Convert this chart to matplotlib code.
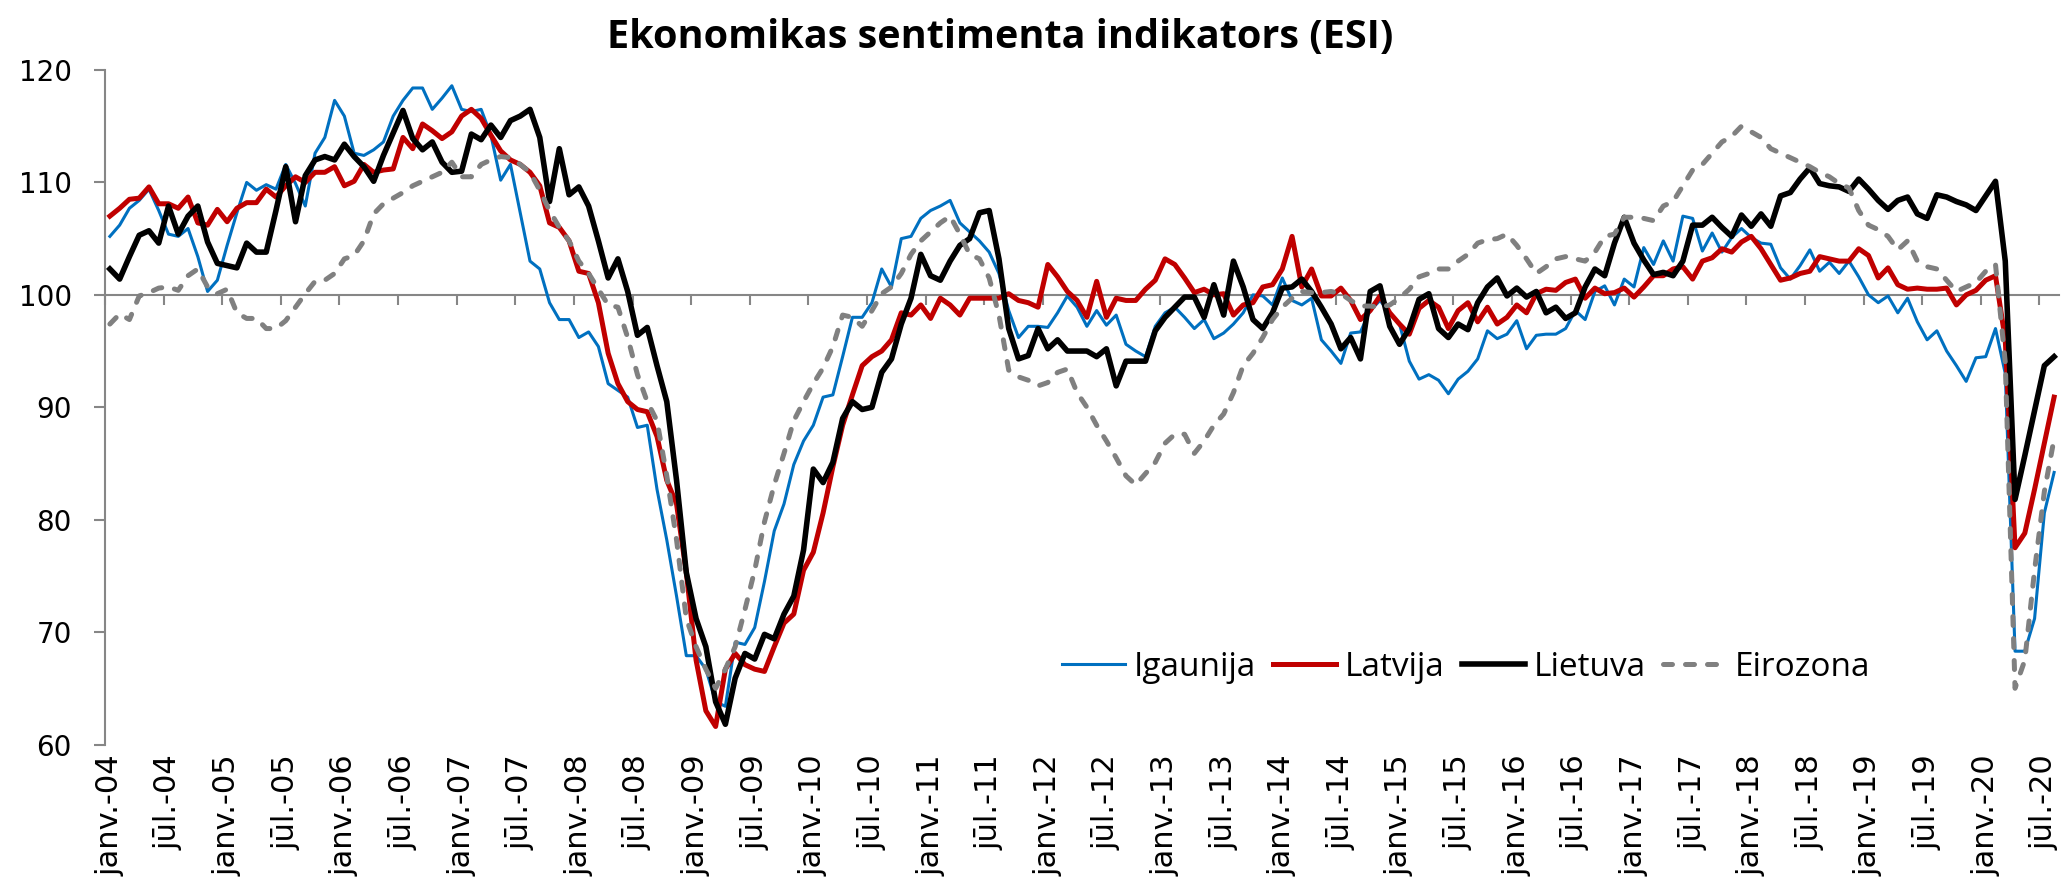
import numpy as np
import matplotlib
matplotlib.use("Agg")
import matplotlib.pyplot as plt

# ---------------- data (monthly, Jan 2004 - Aug 2020) ----------------
months_lv = ['janv.', 'febr.', 'marts', 'apr.', 'maijs', 'jūn.',
             'jūl.', 'aug.', 'sept.', 'okt.', 'nov.', 'dec.']
years = list(range(2004, 2021))

igaunija = [
    105.2, 106.2, 107.7, 108.4, 109.4, 107.5, 105.4, 105.2, 105.9, 103.4, 100.3, 101.3,
    104.4, 107.3, 110.0, 109.3, 109.8, 109.4, 111.6, 109.9, 107.9, 112.6, 114.0, 117.3,
    115.9, 112.6, 112.4, 112.9, 113.6, 115.9, 117.3, 118.4, 118.4, 116.5, 117.5, 118.6,
    116.5, 116.3, 116.5, 114.2, 110.2, 111.6, 107.3, 103.0, 102.3, 99.3, 97.8, 97.8,
    96.2, 96.7, 95.4, 92.1, 91.5, 90.9, 88.2, 88.4, 82.7, 78.2, 73.2, 67.9,
    67.9, 66.7, 63.8, 63.4, 69.1, 68.9, 70.4, 74.5, 79.0, 81.4, 84.9, 87.0,
    88.4, 90.9, 91.1, 94.5, 98.0, 98.0, 99.3, 102.3, 100.7, 105.0, 105.2, 106.8,
    107.5, 107.9, 108.4, 106.4, 105.6, 104.8, 103.8, 101.9, 98.6, 96.2, 97.2, 97.2,
    97.1, 98.4, 99.9, 98.9, 97.2, 98.6, 97.3, 98.2, 95.6, 95.0, 94.5, 97.2,
    98.4, 98.9, 98.0, 97.0, 97.8, 96.1, 96.6, 97.4, 98.4, 100.0, 99.9, 99.1,
    101.5, 99.5, 99.1, 99.7, 96.0, 95.0, 93.9, 96.6, 96.7, 98.6, 99.5, 98.4,
    97.4, 94.1, 92.5, 92.9, 92.4, 91.2, 92.5, 93.2, 94.3, 96.8, 96.1, 96.5,
    97.7, 95.2, 96.4, 96.5, 96.5, 97.0, 98.6, 97.8, 100.3, 100.8, 99.1, 101.4,
    100.7, 104.2, 102.7, 104.8, 103.0, 107.0, 106.8, 103.9, 105.5, 103.8, 105.1, 105.9,
    105.1, 104.6, 104.5, 102.4, 101.4, 102.6, 104.0, 102.1, 102.9, 101.9, 103.0, 101.6,
    100.0, 99.3, 99.9, 98.4, 99.7, 97.6, 96.0, 96.8, 95.0, 93.7, 92.3, 94.4,
    94.5, 97.0, 93.0, 68.3, 68.3, 71.2, 80.6, 84.2,
]

latvija = [
    107.0, 107.7, 108.5, 108.6, 109.6, 108.1, 108.1, 107.7, 108.7, 106.4, 106.2, 107.6,
    106.5, 107.7, 108.2, 108.2, 109.4, 108.7, 109.7, 110.5, 110.0, 110.9, 110.9, 111.4,
    109.7, 110.1, 111.6, 110.9, 111.1, 111.2, 114.0, 113.0, 115.2, 114.6, 113.9, 114.5,
    115.9, 116.5, 115.7, 114.2, 112.8, 112.0, 111.6, 110.9, 109.7, 106.4, 106.0, 104.8,
    102.1, 101.9, 99.3, 94.8, 92.1, 90.5, 89.8, 89.6, 87.4, 83.5, 81.4, 75.3,
    67.5, 63.0, 61.6, 66.7, 68.1, 67.1, 66.7, 66.5, 68.7, 70.8, 71.6, 75.5,
    77.1, 80.6, 84.7, 88.4, 91.1, 93.7, 94.5, 95.0, 96.0, 98.4, 98.2, 99.1,
    97.9, 99.7, 99.1, 98.2, 99.7, 99.7, 99.7, 99.7, 100.1, 99.5, 99.3, 98.9,
    102.7, 101.6, 100.3, 99.5, 98.0, 101.2, 98.0, 99.7, 99.5, 99.5, 100.5, 101.3,
    103.2, 102.7, 101.5, 100.2, 100.5, 100.0, 100.1, 98.2, 99.1, 99.3, 100.7, 100.9,
    102.3, 105.2, 100.7, 102.3, 99.9, 99.9, 100.6, 99.5, 97.8, 98.6, 99.9, 98.4,
    97.4, 96.5, 98.8, 99.5, 98.9, 97.0, 98.6, 99.3, 97.6, 98.9, 97.4, 98.0,
    99.1, 98.4, 100.1, 100.5, 100.4, 101.1, 101.4, 99.7, 100.6, 100.1, 100.2, 100.6,
    99.8, 100.7, 101.7, 101.7, 102.3, 102.5, 101.4, 103.0, 103.3, 104.1, 103.8, 104.7,
    105.2, 104.1, 102.7, 101.3, 101.5, 101.9, 102.1, 103.4, 103.2, 103.0, 103.0, 104.1,
    103.5, 101.5, 102.4, 100.9, 100.5, 100.6, 100.5, 100.5, 100.6, 99.1, 100.0, 100.4,
    101.3, 101.7, 96.0, 77.5, 78.8, 82.7, 86.8, 90.9,
]

lietuva = [
    102.3, 101.4, 103.4, 105.3, 105.7, 104.6, 107.9, 105.4, 107.0, 107.9, 104.7, 102.8,
    102.6, 102.4, 104.6, 103.8, 103.8, 107.5, 111.4, 106.5, 110.6, 112.0, 112.3, 112.0,
    113.4, 112.3, 111.4, 110.1, 112.4, 114.4, 116.4, 113.9, 112.9, 113.6, 111.8, 110.9,
    111.0, 114.3, 113.8, 115.1, 114.0, 115.5, 115.9, 116.5, 114.0, 108.3, 113.0, 108.9,
    109.6, 107.9, 104.8, 101.5, 103.2, 100.3, 96.4, 97.1, 93.7, 90.5, 83.5, 75.3,
    71.2, 68.7, 63.8, 61.8, 65.9, 68.1, 67.6, 69.8, 69.4, 71.6, 73.2, 77.3,
    84.5, 83.3, 85.1, 89.0, 90.5, 89.8, 90.0, 93.1, 94.3, 97.4, 99.7, 103.6,
    101.7, 101.3, 103.0, 104.4, 105.0, 107.3, 107.5, 103.2, 97.0, 94.3, 94.6, 97.0,
    95.2, 96.0, 95.0, 95.0, 95.0, 94.5, 95.2, 91.9, 94.1, 94.1, 94.1, 96.8,
    98.0, 98.9, 99.8, 99.8, 98.0, 100.9, 98.2, 103.0, 100.7, 97.8, 97.0, 98.4,
    100.6, 100.7, 101.4, 100.3, 98.9, 97.4, 95.2, 96.2, 94.3, 100.3, 100.8, 97.2,
    95.6, 97.0, 99.6, 100.1, 97.0, 96.2, 97.4, 96.9, 99.3, 100.7, 101.5, 99.9,
    100.6, 99.8, 100.3, 98.4, 98.9, 97.9, 98.4, 100.7, 102.3, 101.7, 104.6, 106.9,
    104.6, 103.1, 101.8, 102.0, 101.7, 103.0, 106.2, 106.2, 106.9, 106.0, 105.2, 107.1,
    106.1, 107.2, 106.1, 108.8, 109.1, 110.3, 111.3, 109.9, 109.7, 109.6, 109.2, 110.3,
    109.4, 108.4, 107.6, 108.4, 108.7, 107.2, 106.8, 108.9, 108.7, 108.3, 108.0, 107.5,
    108.8, 110.1, 103.0, 81.8, 85.7, 89.7, 93.7, 94.5,
]

eirozona = [
    97.4, 98.3, 97.8, 99.9, 100.2, 100.6, 100.7, 100.4, 101.7, 102.3, 100.7, 100.1,
    100.5, 98.4, 97.9, 97.9, 97.0, 97.0, 97.7, 98.9, 100.1, 101.2, 101.3, 101.9,
    103.2, 103.5, 104.8, 107.2, 108.1, 108.6, 109.1, 109.7, 110.1, 110.5, 110.9, 111.8,
    110.5, 110.5, 111.6, 112.0, 112.3, 112.2, 111.6, 110.9, 109.3, 107.5, 106.0, 104.8,
    103.0, 101.9, 100.5, 99.1, 98.9, 96.2, 92.9, 90.5, 88.8, 83.9, 78.2, 71.2,
    68.7, 66.7, 65.0, 66.7, 68.7, 72.0, 75.5, 79.8, 83.1, 85.9, 88.8, 90.5,
    92.1, 93.5, 95.4, 98.2, 98.0, 97.2, 98.6, 100.1, 100.7, 101.9, 103.6, 104.8,
    105.6, 106.4, 107.0, 105.4, 103.6, 103.2, 101.5, 98.2, 93.3, 92.7, 92.4, 91.9,
    92.2, 93.1, 93.4, 91.3, 90.0, 88.4, 87.0, 85.5, 83.9, 83.1, 84.1, 85.1,
    86.8, 87.6, 87.6, 85.9, 87.0, 88.4, 89.4, 91.3, 93.7, 94.8, 96.2, 97.8,
    98.9, 99.7, 100.3, 100.2, 100.2, 100.3, 100.1, 99.5, 99.0, 99.0, 98.9, 99.1,
    99.7, 100.5, 101.6, 101.9, 102.3, 102.3, 103.0, 103.6, 104.6, 104.9, 105.0, 105.4,
    104.4, 103.2, 101.9, 102.5, 103.2, 103.4, 103.2, 103.0, 103.8, 105.2, 105.4, 106.9,
    106.9, 106.8, 106.6, 107.9, 108.3, 109.7, 111.1, 111.6, 112.6, 113.6, 114.1, 115.0,
    114.5, 114.0, 113.0, 112.6, 112.2, 111.8, 111.4, 110.9, 110.5, 109.9, 109.5, 107.5,
    106.2, 105.8, 105.2, 104.0, 104.8, 103.0, 102.5, 102.3, 101.3, 100.3, 100.7, 101.1,
    102.1, 102.7, 94.0, 65.0, 67.5, 75.5, 82.5, 87.2,
]

series_names = ['Igaunija', 'Latvija', 'Lietuva', 'Eirozona']
title_text = 'Ekonomikas sentimenta indikators (ESI)'
y_ticks = [60, 70, 80, 90, 100, 110, 120]

n = len(igaunija)
categories = [f"{months_lv[m]}-{y % 100:02d}" for y in years for m in range(12)][:n]

# ---------------- figure ----------------
W, H = 2066, 893
fig = plt.figure(figsize=(W / 100, H / 100), dpi=100)
left_px, right_px, top_px, bottom_px = 105, 2059, 70, 744.5
ax = fig.add_axes([left_px / W, 1 - bottom_px / H,
                   (right_px - left_px) / W, (bottom_px - top_px) / H])

x = np.arange(n)
axis_gray = '#868686'

ax.plot(x, igaunija, color='#0070C0', lw=2.2, solid_joinstyle='round',
        label=series_names[0], zorder=3)
ax.plot(x, latvija, color='#C00000', lw=3.6, solid_joinstyle='round',
        label=series_names[1], zorder=4)
ax.plot(x, lietuva, color='#000000', lw=4.0, solid_joinstyle='round',
        label=series_names[2], zorder=5)
ax.plot(x, eirozona, color='#808080', lw=3.6, ls=(0, (1.8, 2.6)),
        dash_capstyle='round', label=series_names[3], zorder=6)

ax.set_xlim(-0.5, n - 0.5)
ax.set_ylim(60, 120)
ax.set_yticks(y_ticks)
ax.tick_params(axis='y', direction='out', length=8, width=1.5,
               color=axis_gray, labelsize=20, pad=16, labelcolor='black')
for t in ax.get_yticklabels():
    t.set_fontfamily('DejaVu Sans')

ax.spines['top'].set_visible(False)
ax.spines['right'].set_visible(False)
ax.spines['left'].set_color(axis_gray)
ax.spines['left'].set_linewidth(1.5)
ax.spines['bottom'].set_position(('data', 100))
ax.spines['bottom'].set_color(axis_gray)
ax.spines['bottom'].set_linewidth(1.5)
ax.spines['bottom'].set_zorder(1)

tick_pos = np.arange(0, n, 6) - 0.5
ax.set_xticks(tick_pos)
ax.tick_params(axis='x', direction='out', length=7, width=1.5,
               color=axis_gray, labelbottom=False)

sec = ax.secondary_xaxis(0)
lab_pos = np.arange(0, n, 6)
sec.set_xticks(lab_pos, labels=[categories[i] for i in lab_pos])
sec.tick_params(axis='x', length=0, pad=7, labelsize=22, labelrotation=90)
sec.spines['bottom'].set_visible(False)
for t in sec.get_xticklabels():
    t.set_fontfamily('DejaVu Sans')

fig.text(1000 / W, 1 - 37 / H, title_text, ha='center', va='center',
         fontsize=28.5, fontweight='bold', family=['Open Sans', 'DejaVu Sans'])

leg = ax.legend(loc='center', bbox_to_anchor=(1466 / W, 1 - 667 / H),
                bbox_transform=fig.transFigure, ncol=4, frameon=False,
                handlelength=1.9, handletextpad=0.27, columnspacing=0.5,
                prop={'family': ['Open Sans', 'DejaVu Sans'], 'size': 24})

fig.savefig('out.png', dpi=100)
